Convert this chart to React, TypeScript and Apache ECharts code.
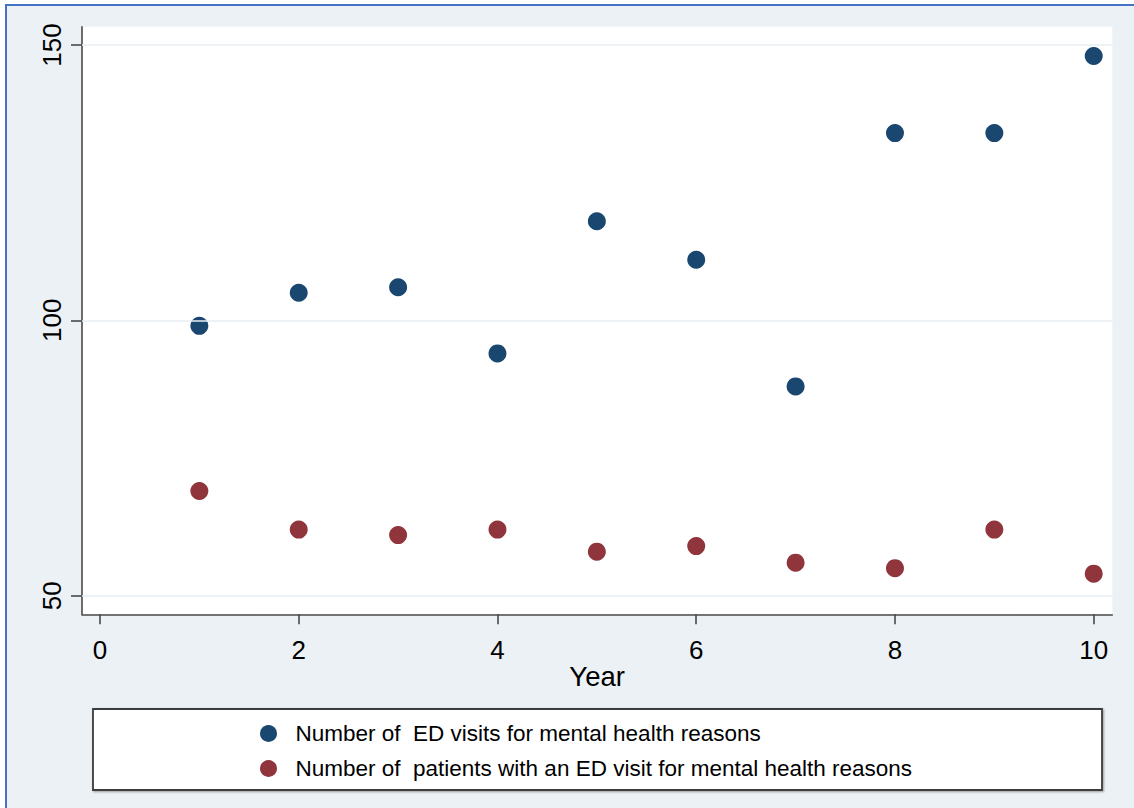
import React, { useEffect, useRef } from "react";
import * as echarts from "echarts";

const years = [1, 2, 3, 4, 5, 6, 7, 8, 9, 10];
const edVisits = [99, 105, 106, 94, 118, 111, 88, 134, 134, 148];
const patients = [69, 62, 61, 62, 58, 59, 56, 55, 62, 54];
const xTicks = [0, 2, 4, 6, 8, 10];
const yTicks = [50, 100, 150];
const seriesNames = [
  "Number of  ED visits for mental health reasons",
  "Number of  patients with an ED visit for mental health reasons",
];

const FONT = "'Liberation Sans', Arial, sans-serif";
const BG = "#EBF1F5";
const BLUE = "#1A476F";
const RED = "#90353B";

export default function App() {
  const ref = useRef<HTMLDivElement>(null);

  useEffect(() => {
    document.body.style.margin = "0";
    const chart = echarts.init(ref.current!, undefined, { renderer: "svg" });
    const option: any = {
      animation: false,
      backgroundColor: BG,
      textStyle: { fontFamily: FONT },
      grid: {
        left: 75,
        top: 20.7,
        right: 21.7,
        bottom: 193.7,
        show: true,
        backgroundColor: "#FFFFFF",
        borderWidth: 0,
        containLabel: false,
      },
      xAxis: {
        type: "value",
        min: -0.181,
        max: 10.187,
        name: "Year",
        nameLocation: "middle",
        nameGap: 48,
        nameMoveOverlap: false,
        nameTextStyle: { fontSize: 27.5, color: "#000", fontFamily: FONT },
        axisLine: { show: true, onZero: false, lineStyle: { color: "#4A4A4A", width: 1.6 } },
        axisTick: { show: true, length: 10, customValues: xTicks, lineStyle: { color: "#4A4A4A", width: 1.6 } },
        axisLabel: { customValues: xTicks, fontSize: 26, color: "#000", margin: 23, fontFamily: FONT },
        splitLine: { show: false },
      },
      yAxis: {
        type: "value",
        min: 46.62,
        max: 153.32,
        axisLine: { show: true, onZero: false, lineStyle: { color: "#4A4A4A", width: 1.6 } },
        axisTick: { show: true, length: 11, customValues: yTicks, lineStyle: { color: "#4A4A4A", width: 1.6 } },
        axisLabel: { customValues: yTicks, fontSize: 26, color: "#000", rotate: 90, margin: 17, fontFamily: FONT },
        splitLine: { show: false },
      },
      legend: {
        orient: "vertical",
        left: 248,
        top: 711,
        itemWidth: 44,
        itemHeight: 17,
        itemGap: 12,
        icon: "circle",
        textStyle: { fontSize: 22.5, color: "#000", lineHeight: 20, fontFamily: FONT },
        data: seriesNames,
      },
      graphic: [
        {
          type: "rect",
          z: -1,
          shape: { x: 86, y: 703, width: 1009, height: 81 },
          style: {
            fill: "#FFFFFF",
            stroke: "#3C3C3C",
            lineWidth: 1.8,
            shadowBlur: 2,
            shadowColor: "rgba(0,0,0,0.35)",
            shadowOffsetX: 1,
            shadowOffsetY: 1,
          },
        },
      ],
      series: [
        {
          name: seriesNames[0],
          type: "scatter",
          symbol: "circle",
          symbolSize: 18,
          itemStyle: { color: BLUE, opacity: 1 },
          data: years.map((y, i) => [y, edVisits[i]]),
          markLine: {
            silent: true,
            symbol: "none",
            label: { show: false },
            lineStyle: { color: "#E6EEF3", type: "solid", width: 1.6 },
            data: yTicks.map((v) => ({ yAxis: v })),
          },
          z: 3,
        },
        {
          name: seriesNames[1],
          type: "scatter",
          symbol: "circle",
          symbolSize: 18,
          itemStyle: { color: RED, opacity: 1 },
          data: years.map((y, i) => [y, patients[i]]),
          z: 3,
        },
      ],
    };
    chart.setOption(option);
    return () => chart.dispose();
  }, []);

  return (
    <div style={{ position: "fixed", left: 0, top: 0, width: 1134, height: 808, background: "#FFFFFF" }}>
      <div
        style={{
          position: "absolute",
          left: 5,
          top: 4,
          width: 1129,
          height: 804,
          boxSizing: "border-box",
          borderLeft: "2px solid #4472C4",
          borderTop: "2px solid #4472C4",
        }}
      />
      <div ref={ref} style={{ position: "absolute", left: 7, top: 6, width: 1127, height: 802 }} />
    </div>
  );
}
